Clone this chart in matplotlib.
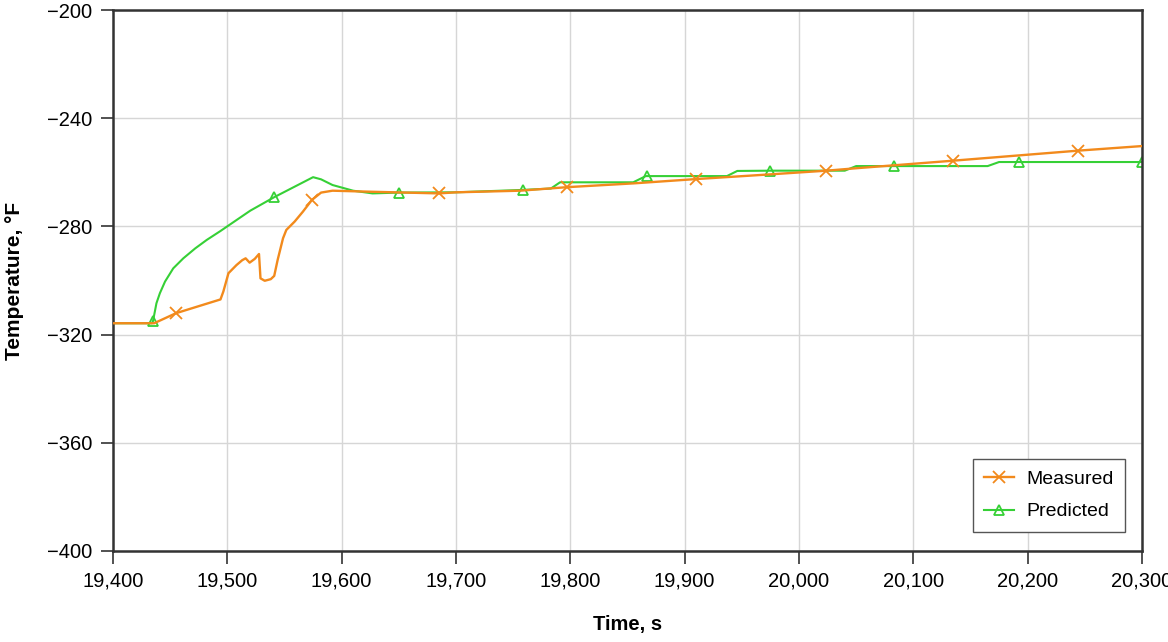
import matplotlib.pyplot as plt
from matplotlib.ticker import FuncFormatter, MultipleLocator

plt.rcParams['font.family'] = ['Liberation Sans', 'DejaVu Sans']

# measured temperature trace
meas_t = [19400, 19436, 19455, 19494, 19496.5, 19501, 19508, 19513, 19516, 19519.5,
          19524, 19527.7, 19529, 19532.7, 19538, 19541, 19544, 19548.7, 19551.6, 19558.9,
          19566, 19574, 19582, 19592, 19627, 19685, 19700, 19756, 19797, 19855,
          19910, 19966, 20024, 20050, 20135, 20244, 20300]
meas_T = [-315.8, -315.8, -312.1, -307.0, -304.1, -297.3, -294.3, -292.5, -291.8, -293.4,
          -292.0, -290.2, -299.2, -300.1, -299.5, -298.3, -292.4, -284.4, -281.3, -278.2,
          -274.6, -270.2, -267.5, -266.8, -267.2, -267.8, -267.4, -266.8, -265.5, -264.1,
          -262.5, -261.0, -259.4, -258.5, -255.7, -252.0, -250.3]
meas_marks = [19455, 19574, 19685, 19797, 19910, 20024, 20135, 20244]

# predicted temperature trace
pred_t = [19400, 19434, 19435, 19438, 19441, 19445.5, 19452.7, 19461.5, 19472, 19482,
          19494, 19520, 19541, 19575, 19582, 19592, 19610, 19627, 19650, 19700,
          19759, 19783, 19791, 19855, 19866, 19867, 19937, 19946, 19975, 20040,
          20050, 20083, 20165, 20175, 20192, 20300]
pred_T = [-315.8, -315.8, -315.0, -308.4, -304.7, -300.4, -295.5, -291.8, -288.1, -285.0,
          -281.7, -274.2, -269.2, -261.8, -262.6, -264.7, -266.8, -267.8, -267.5, -267.4,
          -266.5, -266.0, -263.7, -263.7, -261.4, -261.4, -261.4, -259.5, -259.4, -259.4,
          -257.7, -257.7, -257.7, -256.2, -256.2, -256.2]
pred_marks = [19435, 19541, 19650, 19759, 19867, 19975, 20083, 20192, 20300]

orange = '#f28a1c'
green = '#36d036'

fig = plt.figure(figsize=(11.68, 6.42), dpi=100)
ax = fig.add_axes([113 / 1168, 91 / 642, 1029 / 1168, 541 / 642])

ax.plot(meas_t, meas_T, color=orange, lw=1.7, marker='x', ms=8, mew=1.3,
        markevery=[meas_t.index(m) for m in meas_marks], label='Measured', zorder=3)
ax.plot(pred_t, pred_T, color=green, lw=1.5, marker='^', ms=7, mew=1.3, mfc='none',
        markevery=[pred_t.index(m) for m in pred_marks], label='Predicted', zorder=2)

ax.set_xlim(19400, 20300)
ax.set_ylim(-400, -200)
ax.xaxis.set_major_locator(MultipleLocator(100))
ax.yaxis.set_major_locator(MultipleLocator(40))
ax.xaxis.set_major_formatter(FuncFormatter(lambda v, p: f'{v:,.0f}'))
ax.yaxis.set_major_formatter(FuncFormatter(lambda v, p: f'\u2212{abs(v):.0f}'))

ax.grid(True, color='#d6d6d6', lw=1.0)
ax.set_axisbelow(True)
for s in ax.spines.values():
    s.set_color('#333333')
    s.set_linewidth(1.8)
ax.tick_params(direction='out', length=9, width=1.2, color='#333333',
               labelsize=14.5, pad=6)

ax.set_xlabel('Time, s', fontsize=14.5, fontweight='bold')
ax.set_ylabel('Temperature, \u00b0F', fontsize=15, fontweight='bold')
ax.xaxis.set_label_coords(0.5, -0.118)
ax.yaxis.set_label_coords(-0.0862, 0.5)

leg = ax.legend(loc='lower right', bbox_to_anchor=(0.9835, 0.035), borderaxespad=0,
                fontsize=14, fancybox=False, framealpha=1, edgecolor='#555555',
                handlelength=1.55, handletextpad=0.6, borderpad=0.6,
                labelspacing=0.75)
leg.get_frame().set_linewidth(1.0)

fig.savefig('out.png', dpi=100)
